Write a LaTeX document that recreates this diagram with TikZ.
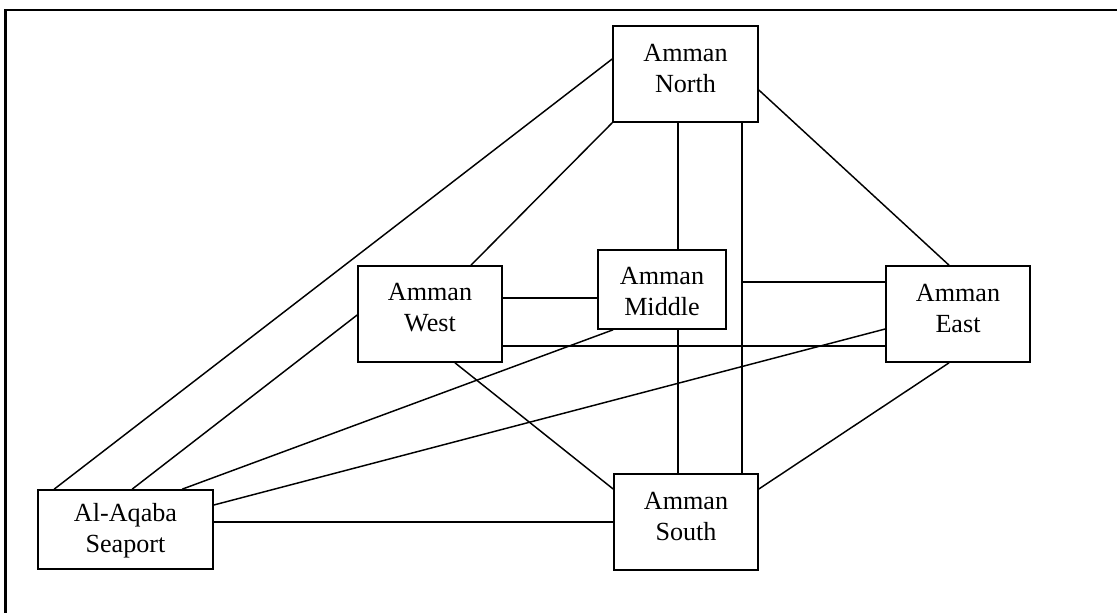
\documentclass[tikz,border=0pt]{standalone}
\usepackage{fontspec}
\setmainfont{Liberation Serif}
\usetikzlibrary{calc}

\tikzset{
  site/.style={draw, line width=1.25pt, inner sep=0pt, fill=white},
  tall/.style={minimum width=108pt, minimum height=72pt},
  flat/.style={minimum height=59.25pt},
  caption/.style={align=center, inner sep=0pt,
    font=\fontsize{19.6}{23.25}\selectfont},
  link/.style={line width=1.1pt},
  frame/.style={line width=1.6pt}
}

\begin{document}
\begin{tikzpicture}[x=0.75pt, y=-0.75pt]
  \useasboundingbox (0,0) rectangle (1117,613);

  % open frame: top and left edges only
  \coordinate (ftl) at (5.5,10);
  \coordinate (ftr) at (1117,10);
  \coordinate (fbl) at (5.5,613);
  \draw[frame] (ftr) -- (ftl) -- (fbl);

  % helper coordinates for straight runs
  \coordinate (v1) at (678,0);
  \coordinate (v2) at (742,0);
  \coordinate (hwm) at (0,298);
  \coordinate (hwe) at (0,346);
  \coordinate (hme) at (0,282);
  \coordinate (junc) at (742,282);

  % sites
  \node[site, minimum width=108.75pt, minimum height=72pt] (north) at (685.5,74) {};
  \node[site, tall] (west) at (430,314) {};
  \node[site, flat, minimum width=96pt] (middle) at (662,289.5) {};
  \node[site, tall] (east) at (958,314) {};
  \node[site, flat, minimum width=131.25pt] (aqaba) at (125.5,529.5) {};
  \node[site, tall] (south) at (686,522) {};

  % connectors
  \begin{scope}[link]
    \draw ($(north.west)+(0,-15)$) -- ($(aqaba.north west)+(17,0)$);
    \draw (north.south west) -- ($(west.north)+(41,0)$);
    \draw (north.south -| v1) -- (middle.north -| v1);
    \draw (north.south -| v2) -- (south.north -| v2);
    \draw ($(north.east)+(0,16)$) -- ($(east.north)+(-9,0)$);
    \draw (west.east |- hwm) -- (middle.west |- hwm);
    \draw (junc) -- (east.west |- hme);
    \draw (west.east |- hwe) -- (east.west |- hwe);
    \draw ($(west.west)+(0,1)$) -- ($(aqaba.north west)+(95,0)$);
    \draw ($(middle.south)+(-49,0)$) -- ($(aqaba.north west)+(145,0)$);
    \draw ($(east.west)+(0,15)$) -- ($(aqaba.east)+(0,-24.5)$);
    \draw ($(west.south)+(25,0)$) -- ($(south.west)+(0,-33)$);
    \draw (middle.south -| v1) -- (south.north -| v1);
    \draw ($(east.south)+(-9,0)$) -- ($(south.east)+(0,-33)$);
    \draw (south.west -| aqaba.east) -- (south.west);
  \end{scope}

  % captions
  \node[caption] (northtxt) at ($(north.center)+(0,-5.5)$) {Amman\\North};
  \node[caption] (westtxt) at ($(west.center)+(0,-6)$) {Amman\\West};
  \node[caption] (middletxt) at ($(middle.center)+(0,2)$) {Amman\\Middle};
  \node[caption] (easttxt) at ($(east.center)+(0,-6)$) {Amman\\East};
  \node[caption] (aqabatxt) at ($(aqaba.center)+(0,1)$) {Al-Aqaba\\Seaport};
  \node[caption] (southtxt) at ($(south.center)+(0,-6)$) {Amman\\South};
\end{tikzpicture}
\end{document}
